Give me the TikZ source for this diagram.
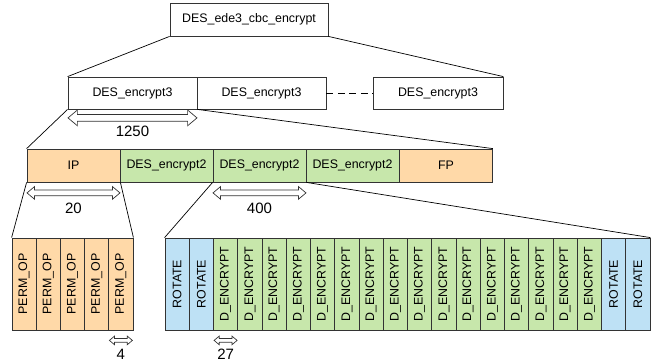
\documentclass[tikz,border=0pt]{standalone}
\usepackage{fontspec}
\setmainfont{Liberation Sans}
\usepackage{graphicx}
\usetikzlibrary{
	calc,
	shapes.arrows}

\definecolor{permorange}{RGB}{255,217,168}
\definecolor{roundgreen}{RGB}{199,231,171}
\definecolor{rotblue}{RGB}{190,225,245}

\begin{document}
\begin{tikzpicture}[x=1pt,y=-1pt,
    box/.style={draw=black!80, line width=0.8pt, inner sep=0pt,
      font=\fontsize{12.4}{14}\selectfont},
    callbox/.style={box, minimum width=129pt, minimum height=32pt},
    roundbox/.style={box, minimum width=93pt, minimum height=33pt},
    opbox/.style={box, minimum width=24.25pt, minimum height=92pt},
    span/.style={double arrow, draw=black!80, line width=0.7pt, inner sep=0pt,
      double arrow tip angle=80},
    count/.style={inner sep=0pt, font=\fontsize{15}{18}\selectfont}]
      \useasboundingbox (0,0) rectangle (653,362);

      \node[box, minimum width=158pt, minimum height=33pt] (T0) at (249,19.5) {DES\_ede3\_cbc\_encrypt};

      \node[callbox] (E1) at (132.5,93) {DES\_encrypt3};
      \node[callbox] (E2) at (261.5,93) {DES\_encrypt3};
      \node[callbox, minimum width=130pt] (E3) at (438,93) {DES\_encrypt3};

      \node[roundbox, fill=permorange] (IP) at (73.5,165.5) {IP};
      \node[roundbox, fill=roundgreen] (D1) at (166.5,165.5) {DES\_encrypt2};
      \node[roundbox, fill=roundgreen] (D2) at (259.5,165.5) {DES\_encrypt2};
      \node[roundbox, fill=roundgreen] (D3) at (352.5,165.5) {DES\_encrypt2};
      \node[roundbox, fill=permorange] (FP) at (446,165.5) {FP};

      % initial permutation
      \node[opbox, minimum width=24.2pt, fill=permorange] (P1) at (24.1,284) {\rotatebox{90}{PERM\_OP}};
      \node[opbox, minimum width=24.2pt, fill=permorange] (P2) at (48.3,284) {\rotatebox{90}{PERM\_OP}};
      \node[opbox, minimum width=24.2pt, fill=permorange] (P3) at (72.5,284) {\rotatebox{90}{PERM\_OP}};
      \node[opbox, minimum width=24.2pt, fill=permorange] (P4) at (96.7,284) {\rotatebox{90}{PERM\_OP}};
      \node[opbox, minimum width=24.2pt, fill=permorange] (P5) at (120.9,284) {\rotatebox{90}{PERM\_OP}};

      % rounds
      \node[opbox, fill=rotblue] (R1) at (177.1,284) {\rotatebox{90}{ROTATE}};
      \node[opbox, fill=rotblue] (R2) at (201.4,284) {\rotatebox{90}{ROTATE}};
      \node[opbox, fill=roundgreen] (B1) at (225.6,284) {\rotatebox{90}{D\_ENCRYPT}};
      \node[opbox, fill=roundgreen] (B2) at (249.9,284) {\rotatebox{90}{D\_ENCRYPT}};
      \node[opbox, fill=roundgreen] (B3) at (274.1,284) {\rotatebox{90}{D\_ENCRYPT}};
      \node[opbox, fill=roundgreen] (B4) at (298.4,284) {\rotatebox{90}{D\_ENCRYPT}};
      \node[opbox, fill=roundgreen] (B5) at (322.6,284) {\rotatebox{90}{D\_ENCRYPT}};
      \node[opbox, fill=roundgreen] (B6) at (346.9,284) {\rotatebox{90}{D\_ENCRYPT}};
      \node[opbox, fill=roundgreen] (B7) at (371.1,284) {\rotatebox{90}{D\_ENCRYPT}};
      \node[opbox, fill=roundgreen] (B8) at (395.4,284) {\rotatebox{90}{D\_ENCRYPT}};
      \node[opbox, fill=roundgreen] (B9) at (419.6,284) {\rotatebox{90}{D\_ENCRYPT}};
      \node[opbox, fill=roundgreen] (B10) at (443.9,284) {\rotatebox{90}{D\_ENCRYPT}};
      \node[opbox, fill=roundgreen] (B11) at (468.1,284) {\rotatebox{90}{D\_ENCRYPT}};
      \node[opbox, fill=roundgreen] (B12) at (492.4,284) {\rotatebox{90}{D\_ENCRYPT}};
      \node[opbox, fill=roundgreen] (B13) at (516.6,284) {\rotatebox{90}{D\_ENCRYPT}};
      \node[opbox, fill=roundgreen] (B14) at (540.9,284) {\rotatebox{90}{D\_ENCRYPT}};
      \node[opbox, fill=roundgreen] (B15) at (565.1,284) {\rotatebox{90}{D\_ENCRYPT}};
      \node[opbox, fill=roundgreen] (B16) at (589.4,284) {\rotatebox{90}{D\_ENCRYPT}};
      \node[opbox, fill=rotblue] (R3) at (613.6,284) {\rotatebox{90}{ROTATE}};
      \node[opbox, fill=rotblue] (R4) at (637.9,284) {\rotatebox{90}{ROTATE}};

      % sizes
      \node[span, inner ysep=3pt, double arrow head extend=4.5pt, minimum height=129pt] (W1) at ($(E1.south)+(0,8.5)$) {};
      \node[count] (N1) at ($(E1.south)+(0,21.5)$) {1250};
      \node[span, inner ysep=2.5pt, double arrow head extend=3.5pt, minimum height=93pt] (W2) at ($(IP.south)+(0,10.5)$) {};
      \node[count] (N2) at ($(IP.south)+(0,26)$) {20};
      \node[span, inner ysep=2.5pt, double arrow head extend=3.5pt, minimum height=93pt] (W3) at ($(D2.south)+(0,10.5)$) {};
      \node[count] (N3) at ($(D2.south)+(0,26)$) {400};
      \node[span, inner ysep=1.5pt, double arrow head extend=2.5pt, minimum height=23pt] (W4) at ($(P5.south)+(0,10)$) {};
      \node[count] (N4) at ($(P5.south)+(0,23.5)$) {4};
      \node[span, inner ysep=1.5pt, double arrow head extend=2.5pt, minimum height=23pt] (W5) at ($(B1.south)+(0,10)$) {};
      \node[count] (N5) at ($(B1.south)+(0,23.5)$) {27};

      \draw [line width=0.7pt] (T0.south west) to (E1.north west);
      \draw [line width=0.7pt] (T0.south east) to (E3.north east);
      \draw [line width=0.7pt, dash pattern=on 7pt off 4.5pt] (E2.east) to (E3.west);
      \draw [line width=0.7pt] (E1.south west) to (IP.north west);
      \draw [line width=0.7pt] (E1.south east) to (FP.north east);
      \draw [line width=0.7pt] (IP.south west) to (P1.north west);
      \draw [line width=0.7pt] (IP.south east) to (P5.north east);
      \draw [line width=0.7pt] (D2.south west) to (R1.north west);
      \draw [line width=0.7pt] (D2.south east) to (R4.north east);
\end{tikzpicture}
\end{document}
